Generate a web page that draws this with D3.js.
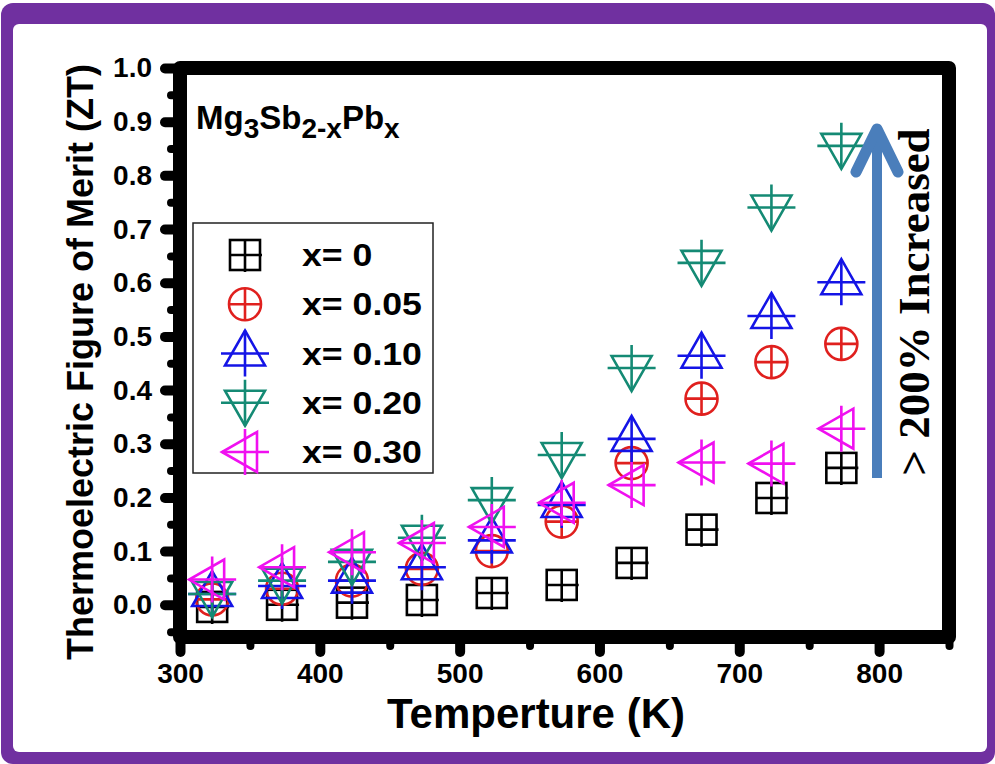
<!DOCTYPE html>
<html>
<head>
<meta charset="utf-8">
<script src="https://cdn.jsdelivr.net/npm/d3@7"></script>
<style>
  body { margin: 0; background: #fff; }
  svg { display: block; }
  .tick-label { font-family: "Liberation Sans", Arial, sans-serif; font-weight: bold; fill: #000; }
</style>
</head>
<body>
<div id="chart"></div>
<script>
// temperatures (K)
const temps = [323, 373, 423, 473, 523, 573, 623, 673, 723, 773];

// ZT values, one list per composition
const zt_x000 = [-0.004, 0.0, 0.004, 0.009, 0.022, 0.037, 0.078, 0.14, 0.199, 0.255];
const zt_x005 = [0.01, 0.03, 0.045, 0.067, 0.1, 0.155, 0.264, 0.384, 0.452, 0.486];
const zt_x010 = [0.02, 0.035, 0.045, 0.07, 0.12, 0.186, 0.309, 0.464, 0.538, 0.601];
const zt_x020 = [0.02, 0.045, 0.08, 0.125, 0.195, 0.279, 0.441, 0.637, 0.74, 0.855];
const zt_x030 = [0.047, 0.07, 0.098, 0.115, 0.145, 0.19, 0.223, 0.265, 0.263, 0.328];

const seriesLabels = ["x= 0", "x= 0.05", "x= 0.10", "x= 0.20", "x= 0.30"];
const seriesColors = ["#000000", "#e0201e", "#1414e6", "#148a74", "#f010f0"];
const seriesShapes = ["square", "circle", "up", "down", "left"];
const seriesValues = [zt_x000, zt_x005, zt_x010, zt_x020, zt_x030];

const xMajor = [300, 400, 500, 600, 700, 800];
const xMinor = [350, 450, 550, 650, 750, 850];
const yMajor = [0.0, 0.1, 0.2, 0.3, 0.4, 0.5, 0.6, 0.7, 0.8, 0.9, 1.0];
const yMinor = [-0.05, 0.05, 0.15, 0.25, 0.35, 0.45, 0.55, 0.65, 0.75, 0.85, 0.95];

const W = 995, H = 764;

let svg = d3.select("#chart").append("svg")
    .attr("width", W)
    .attr("height", H);

// purple frame
svg.append("rect")
    .attr("x", 1).attr("y", 3)
    .attr("width", W - 1).attr("height", H - 3)
    .attr("rx", 12)
    .style("fill", "#7030a0");
svg.append("rect")
    .attr("x", 13).attr("y", 24)
    .attr("width", 974).attr("height", 728)
    .attr("rx", 6)
    .style("fill", "#ffffff");

// scales
let x = d3.scaleLinear().domain([300, 850]).range([180, 949]);
let y = d3.scaleLinear().domain([-0.06, 1.0]).range([637, 68]);

// axes (ticks only, frame is drawn separately)
function styleAxis(g, width) {
    g.select(".domain").remove();
    g.selectAll(".tick line")
        .style("stroke", "#000")
        .style("stroke-width", width)
        .style("stroke-linecap", "round");
    g.selectAll(".tick text")
        .attr("class", "tick-label")
        .style("font-size", "28px");
}

svg.append("g")
    .attr("transform", `translate(0, ${y(-0.06)})`)
    .call(d3.axisBottom(x).tickValues(xMinor).tickSize(9).tickFormat(""))
    .call(g => styleAxis(g, 8));
svg.append("g")
    .attr("transform", `translate(0, ${y(-0.06)})`)
    .call(d3.axisBottom(x).tickValues(xMajor).tickSize(15).tickPadding(11).tickFormat(d3.format("d")))
    .call(g => styleAxis(g, 10));

svg.append("g")
    .attr("transform", `translate(${x(300)}, 0)`)
    .call(d3.axisLeft(y).tickValues(yMinor).tickSize(9).tickFormat(""))
    .call(g => styleAxis(g, 8));
svg.append("g")
    .attr("transform", `translate(${x(300)}, 0)`)
    .call(d3.axisLeft(y).tickValues(yMajor).tickSize(15).tickPadding(13).tickFormat(d3.format(".1f")))
    .call(g => styleAxis(g, 10));

// thick frame
svg.append("rect")
    .attr("x", x(300)).attr("y", y(1.0))
    .attr("width", x(850) - x(300)).attr("height", y(-0.06) - y(1.0))
    .style("fill", "none")
    .style("stroke", "#000")
    .style("stroke-width", 14)
    .style("stroke-linejoin", "round");

// marker drawing
function drawMarker(g, shape, color) {
    g.style("stroke", color).style("stroke-width", 2.6).style("fill", "none");
    if (shape === "square") {
        g.append("rect").attr("x", -15).attr("y", -15).attr("width", 30).attr("height", 30);
        g.append("path").attr("d", "M-15,0H17M0,-15V17");
    } else if (shape === "circle") {
        g.append("circle").attr("r", 16);
        g.append("path").attr("d", "M-16,0H16M0,-16V16");
    } else if (shape === "up") {
        g.append("path").attr("d", "M0,-23L20,12L-20,12Z");
        g.append("path").attr("d", "M-24,0H24M0,-23V23");
    } else if (shape === "down") {
        g.append("path").attr("d", "M0,23L20,-12L-20,-12Z");
        g.append("path").attr("d", "M-24,0H24M0,-23V23");
    } else if (shape === "left") {
        g.append("path").attr("d", "M-23,0L12,20L12,-20Z");
        g.append("path").attr("d", "M-23,0H24M0,-23V23");
    }
}

// data points
seriesValues.forEach((vals, i) => {
    let grp = svg.append("g").attr("class", "series-" + i);
    temps.forEach((t, j) => {
        let m = grp.append("g")
            .attr("transform", `translate(${x(t)}, ${y(vals[j])})`);
        drawMarker(m, seriesShapes[i], seriesColors[i]);
    });
});

// legend
let legend = svg.append("g").attr("class", "legend");
legend.append("rect")
    .attr("x", 193).attr("y", 223)
    .attr("width", 240).attr("height", 250)
    .style("fill", "none")
    .style("stroke", "#222")
    .style("stroke-width", 1.5);

let legendY = d3.scalePoint().domain(seriesLabels).range([255, 452]);
seriesLabels.forEach((lab, i) => {
    let m = legend.append("g")
        .attr("transform", `translate(245, ${legendY(lab)})`);
    drawMarker(m, seriesShapes[i], seriesColors[i]);
    let t = legend.append("text")
        .attr("class", "tick-label")
        .attr("x", 302)
        .attr("y", legendY(lab) + 11)
        .style("font-size", "31px")
        .text(lab);
    // the reference lettering is a little wider than the plain font
    let len = t.node().getComputedTextLength();
    t.attr("textLength", len * 1.15).attr("lengthAdjust", "spacingAndGlyphs");
});

// composition label
let comp = svg.append("text")
    .attr("class", "tick-label")
    .attr("x", 196).attr("y", 129)
    .style("font-size", "33px");
comp.append("tspan").text("Mg");
comp.append("tspan").attr("dy", 9).style("font-size", "28px").text("3");
comp.append("tspan").attr("dy", -9).text("Sb");
comp.append("tspan").attr("dy", 9).style("font-size", "28px").text("2-x");
comp.append("tspan").attr("dy", -9).text("Pb");
comp.append("tspan").attr("dy", 9).style("font-size", "28px").text("x");

// arrow
svg.append("line")
    .attr("x1", 877).attr("y1", 478)
    .attr("x2", 877).attr("y2", 134)
    .style("stroke", "#4a7ebb")
    .style("stroke-width", 10);
svg.append("path")
    .attr("d", "M856,172L877,129L898,172")
    .style("fill", "none")
    .style("stroke", "#4a7ebb")
    .style("stroke-width", 11)
    .style("stroke-linecap", "round")
    .style("stroke-linejoin", "round");

svg.append("text")
    .attr("transform", "translate(929, 302) rotate(-90)")
    .attr("text-anchor", "middle")
    .style("font-family", "'Liberation Serif', 'Times New Roman', serif")
    .style("font-weight", "bold")
    .style("font-size", "45px")
    .text("> 200% Increased");

// axis titles
svg.append("text")
    .attr("class", "tick-label")
    .attr("x", 536).attr("y", 728)
    .attr("text-anchor", "middle")
    .style("font-size", "42px")
    .text("Temperture (K)");

svg.append("text")
    .attr("class", "tick-label")
    .attr("transform", "translate(93, 362) rotate(-90)")
    .attr("text-anchor", "middle")
    .style("font-size", "36px")
    .text("Thermoelectric Figure of Merit (ZT)");
</script>
</body>
</html>
